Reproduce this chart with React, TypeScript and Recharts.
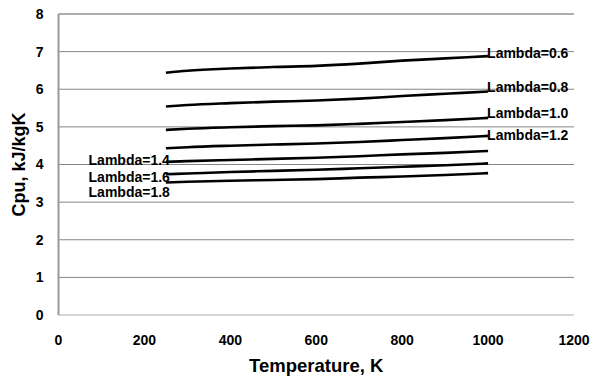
import { CartesianGrid, Line, LineChart, ReferenceLine, XAxis, YAxis } from "recharts";

// Specific heat Cpu vs temperature for several excess-air ratios (Lambda).

const temps = [250, 300, 400, 500, 600, 700, 800, 900, 1000];

const lambda06 = [6.44, 6.49, 6.55, 6.59, 6.62, 6.68, 6.76, 6.82, 6.88];
const lambda08 = [5.54, 5.58, 5.63, 5.67, 5.70, 5.75, 5.82, 5.88, 5.94];
const lambda10 = [4.92, 4.95, 4.99, 5.02, 5.04, 5.08, 5.13, 5.18, 5.24];
const lambda12 = [4.43, 4.46, 4.50, 4.53, 4.56, 4.60, 4.65, 4.70, 4.76];
const lambda14 = [4.07, 4.09, 4.12, 4.15, 4.18, 4.22, 4.27, 4.31, 4.36];
const lambda16 = [3.74, 3.76, 3.80, 3.83, 3.86, 3.90, 3.94, 3.98, 4.03];
const lambda18 = [3.52, 3.54, 3.57, 3.59, 3.61, 3.65, 3.68, 3.72, 3.77];

const seriesKeys = ["l06", "l08", "l10", "l12", "l14", "l16", "l18"];
const seriesNames = [
  "Lambda=0.6",
  "Lambda=0.8",
  "Lambda=1.0",
  "Lambda=1.2",
  "Lambda=1.4",
  "Lambda=1.6",
  "Lambda=1.8",
];
const seriesValues = [lambda06, lambda08, lambda10, lambda12, lambda14, lambda16, lambda18];

const xTicks = [0, 200, 400, 600, 800, 1000, 1200];
const yTicks = [0, 1, 2, 3, 4, 5, 6, 7, 8];

// where each series label sits: at the line's end (right) or start (left), with a nudge
const labelSide = ["right", "right", "right", "right", "left", "left", "left"];
const labelDy = [-3, -4, -5, -1, -2, 3, 10];

const data = temps.map((t, i) => {
  const row: Record<string, number> = { t };
  seriesKeys.forEach((k, s) => (row[k] = seriesValues[s][i]));
  return row;
});

const labelFont = "'Liberation Sans', Arial, sans-serif";

function makeLabel(s: number) {
  const last = temps.length - 1;
  return (p: any) => {
    const right = labelSide[s] === "right";
    if (p.index !== (right ? last : 0)) return null;
    return (
      <text
        key={`lbl-${s}`}
        x={right ? p.x - 1 : p.x + 4}
        y={p.y + labelDy[s]}
        dy="0.35em"
        textAnchor={right ? "start" : "end"}
        fontFamily={labelFont}
        fontWeight="bold"
        fontSize={14}
        fill="#000"
      >
        {seriesNames[s]}
      </text>
    );
  };
}

export default function App() {
  return (
    <div style={{ position: "absolute", left: 0, top: 0, background: "#fff" }}>
      <LineChart
        width={591}
        height={383}
        data={data}
        margin={{ top: 14, right: 17, bottom: 0, left: 0 }}
      >
        <CartesianGrid vertical={false} stroke="#868686" strokeWidth={1} />
        <XAxis
          dataKey="t"
          type="number"
          domain={[0, 1200]}
          ticks={xTicks}
          height={68}
          tickLine={false}
          tickSize={0}
          tickMargin={20}
          axisLine={{ stroke: "#d4d4d4", strokeWidth: 2 }}
          tick={{ fill: "#000", fontSize: 14, fontWeight: "bold", fontFamily: labelFont }}
          label={{
            value: "Temperature, K",
            position: "center",
            dy: 16,
            fill: "#000",
            fontSize: 18.5,
            fontWeight: "bold",
            fontFamily: labelFont,
          }}
        />
        <YAxis
          type="number"
          domain={[0, 8]}
          ticks={yTicks}
          width={58.5}
          tickLine={false}
          tickSize={0}
          tickMargin={15}
          axisLine={{ stroke: "#9a9a9a", strokeWidth: 2 }}
          tick={{ fill: "#000", fontSize: 14, fontWeight: "bold", fontFamily: labelFont }}
          label={{
            value: "Cpu, kJ/kgK",
            angle: -90,
            position: "center",
            dx: -11,
            fill: "#000",
            fontSize: 18,
            fontWeight: "bold",
            fontFamily: labelFont,
          }}
        />
        <YAxis
          yAxisId="right"
          orientation="right"
          domain={[0, 8]}
          width={0}
          tick={false}
          tickLine={false}
          axisLine={{ stroke: "#a6a6a6", strokeWidth: 1.5 }}
        />
        <ReferenceLine y={8} stroke="#a6a6a6" strokeWidth={1.5} />
        {seriesKeys.map((k, s) => (
          <Line
            key={k}
            dataKey={k}
            type="monotone"
            stroke="#000"
            strokeWidth={2.6}
            dot={false}
            label={makeLabel(s)}
            isAnimationActive={false}
          />
        ))}
      </LineChart>
    </div>
  );
}
